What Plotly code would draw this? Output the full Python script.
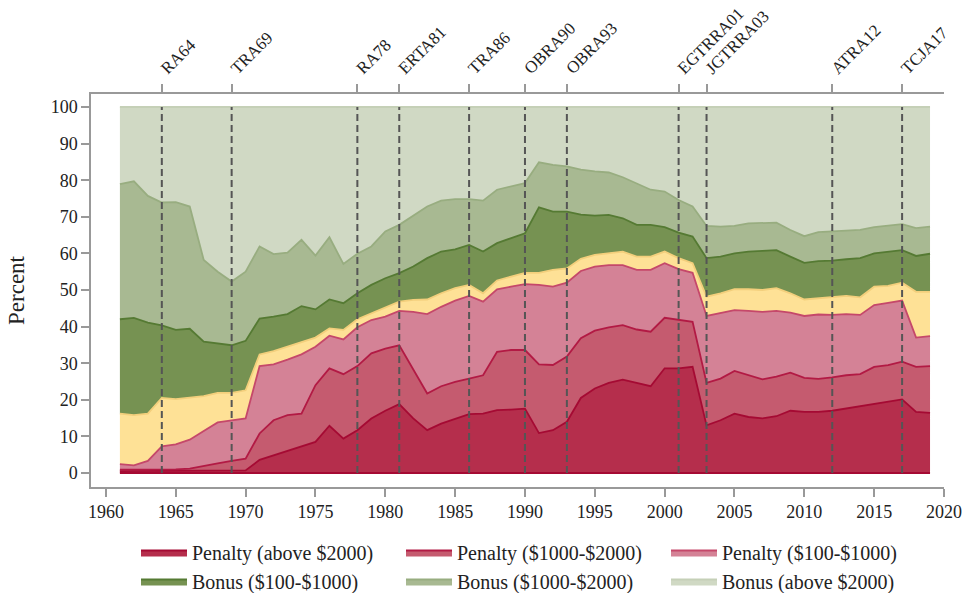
import plotly.graph_objects as go

years = list(range(1961, 2020))

# Cumulative upper boundaries (percent) of each stacked band
top_penalty_above2000 = [0.5, 0.5, 0.5, 0.5, 0.5, 0.5, 0.5, 0.5, 0.6, 0.7,
                         3.6, 4.8, 6.0, 7.3, 8.5, 12.9, 9.4, 11.7, 14.9, 17.0,
                         18.8, 14.9, 11.7, 13.5, 14.9, 16.1, 16.2, 17.2, 17.3, 17.6,
                         10.9, 11.7, 14.0, 20.5, 23.1, 24.6, 25.5, 24.5, 23.7, 28.6,
                         28.6, 29.0, 13.0, 14.4, 16.2, 15.3, 14.9, 15.5, 17.0, 16.7,
                         16.7, 17.0, 17.6, 18.2, 19.0, 19.4, 20.1, 16.7, 16.4]
top_penalty_1000_2000 = [0.9, 0.9, 0.9, 1.0, 1.0, 1.2, 1.8, 2.6, 3.3, 3.9,
                         10.8, 14.4, 15.8, 16.2, 24.0, 28.6, 27.0, 29.2, 32.7, 34.0,
                         34.9, 28.1, 21.7, 23.7, 24.9, 25.8, 26.7, 33.1, 33.6, 33.6,
                         29.7, 29.5, 31.8, 36.8, 38.9, 39.8, 40.4, 39.2, 38.6, 42.4,
                         41.8, 41.3, 24.6, 25.8, 27.9, 26.7, 25.6, 26.3, 27.4, 26.0,
                         25.7, 26.1, 26.7, 27.0, 29.0, 29.5, 30.4, 29.0, 29.2]
top_penalty_100_1000 = [2.4, 2.1, 3.3, 7.3, 7.8, 9.1, 11.5, 13.8, 14.4, 14.9,
                        29.2, 29.7, 31.0, 32.4, 34.5, 37.5, 36.5, 39.8, 41.8, 42.7,
                        44.3, 44.0, 43.4, 45.4, 47.1, 48.4, 46.8, 50.2, 50.9, 51.6,
                        51.4, 50.9, 52.0, 55.2, 56.4, 56.8, 56.8, 55.5, 55.5, 57.3,
                        55.7, 54.7, 42.9, 43.8, 44.5, 44.3, 44.0, 44.3, 43.8, 42.9,
                        43.3, 43.2, 43.4, 43.2, 45.9, 46.5, 47.1, 37.0, 37.4]
top_neutral = [16.2, 15.8, 16.2, 20.5, 20.2, 20.6, 21.0, 21.9, 21.9, 22.6,
               32.4, 33.3, 34.5, 35.9, 37.0, 39.5, 39.1, 42.0, 43.6, 45.3,
               46.8, 47.3, 47.4, 49.1, 50.5, 51.4, 49.1, 52.6, 53.6, 54.7,
               54.7, 55.5, 55.9, 58.5, 59.6, 60.0, 60.5, 59.1, 59.1, 60.5,
               58.7, 57.3, 48.2, 49.1, 50.2, 50.2, 50.0, 50.5, 49.1, 47.4,
               47.8, 48.2, 48.4, 48.0, 50.9, 51.1, 52.0, 49.5, 49.5]
top_bonus_100_1000 = [42.0, 42.4, 41.1, 40.3, 39.1, 39.4, 35.9, 35.4, 34.9, 36.1,
                      42.2, 42.7, 43.4, 45.6, 44.7, 47.4, 46.4, 49.1, 51.4, 53.2,
                      54.6, 56.4, 58.7, 60.5, 61.1, 62.3, 60.5, 62.8, 64.1, 65.5,
                      72.6, 71.4, 71.4, 70.6, 70.3, 70.5, 69.6, 67.8, 67.8, 67.2,
                      65.7, 64.6, 58.7, 59.1, 60.0, 60.5, 60.7, 60.9, 59.1, 57.4,
                      57.9, 58.0, 58.4, 58.7, 60.0, 60.5, 60.9, 59.3, 59.9]
top_bonus_1000_2000 = [78.9, 79.7, 75.7, 73.9, 74.0, 72.8, 58.2, 55.0, 52.3, 55.0,
                       61.9, 59.8, 60.2, 63.7, 59.4, 64.4, 57.1, 59.9, 61.9, 66.0,
                       67.8, 70.3, 72.8, 74.4, 74.8, 74.8, 74.4, 77.4, 78.3, 79.2,
                       84.9, 84.2, 83.8, 82.9, 82.4, 82.1, 80.8, 79.2, 77.4, 76.9,
                       74.6, 72.8, 67.5, 67.3, 67.5, 68.2, 68.4, 68.4, 66.4, 64.7,
                       65.8, 66.0, 66.2, 66.4, 67.2, 67.5, 68.0, 66.9, 67.3]
top_bonus_above2000 = [100] * len(years)
baseline = [0] * len(years)

reform_years = [1964, 1969, 1978, 1981, 1986, 1990, 1993, 2001, 2003, 2012, 2017]
reform_labels = ["RA64", "TRA69", "RA78", "ERTA81", "TRA86", "OBRA90", "OBRA93",
                 "EGTRRA01", "JGTRRA03", "ATRA12", "TCJA17"]

x_ticks = list(range(1960, 2021, 5))
y_ticks = list(range(0, 101, 10))

FONT = "Liberation Serif"

bands = [
    ("Penalty (above $2000)", top_penalty_above2000, "#b52e4c", "#a50a33", True),
    ("Penalty ($1000-$2000)", top_penalty_1000_2000, "#c55b6f", "#b21a44", True),
    ("Penalty ($100-$1000)", top_penalty_100_1000, "#d48296", "#c5486a", True),
    ("Neutral", top_neutral, "#fee196", "#f3cf7c", False),
    ("Bonus ($100-$1000)", top_bonus_100_1000, "#769252", "#557a33", True),
    ("Bonus ($1000-$2000)", top_bonus_1000_2000, "#a8b992", "#98ad80", True),
    ("Bonus (above $2000)", top_bonus_above2000, "#d0d9c4", "#c5d0b7", True),
]

fig = go.Figure()
fig.add_trace(go.Scatter(x=years, y=baseline, mode="lines",
                         line=dict(color="#a50a33", width=2),
                         showlegend=False, hoverinfo="skip"))
for name, vals, fill, edge, show in bands:
    fig.add_trace(go.Scatter(
        x=years, y=vals, mode="lines", name=name,
        fill="tonexty", fillcolor=fill,
        line=dict(color=edge, width=1.8),
        showlegend=show,
    ))

# invisible carrier trace so the top (reform) axis is drawn
fig.add_trace(go.Scatter(x=reform_years, y=[None] * len(reform_years),
                         xaxis="x2", yaxis="y", mode="markers",
                         showlegend=False, hoverinfo="skip"))

for yr in reform_years:
    fig.add_shape(type="line", xref="x", yref="y", x0=yr, x1=yr, y0=0, y1=100,
                  line=dict(color="#555555", width=2, dash="7px,4px"), layer="above")

x_range = [1958.93, 2020.0]
axis_line = "#999999"

W, H = 964, 593

fig.update_layout(
    width=W, height=H,
    margin=dict(l=91, r=20, t=94, b=106, autoexpand=False),
    paper_bgcolor="white", plot_bgcolor="white",
    font=dict(family=FONT, size=18, color="#222222"),
    showlegend=True,
    legend=dict(
        orientation="h", traceorder="normal",
        xref="container", yref="container",
        x=136 / W, xanchor="left",
        y=1 - 533 / H, yanchor="top",
        entrywidth=204, entrywidthmode="pixels",
        itemwidth=46,
        font=dict(family=FONT, size=20, color="#222222"),
        bgcolor="rgba(0,0,0,0)",
        tracegroupgap=0,
    ),
    xaxis=dict(
        range=x_range, tickmode="array", tickvals=x_ticks,
        ticks="outside", ticklen=8, tickcolor=axis_line, tickwidth=1.5,
        showline=True, linecolor=axis_line, linewidth=1.5,
        showgrid=False, zeroline=False, automargin=False,
        tickfont=dict(family=FONT, size=18, color="#222222"),
    ),
    xaxis2=dict(
        range=x_range, overlaying="x", side="top", anchor="y",
        tickmode="array", tickvals=reform_years, ticktext=reform_labels,
        tickangle=-45,
        ticks="outside", ticklen=8, tickcolor=axis_line, tickwidth=1.5,
        showline=True, linecolor=axis_line, linewidth=1.5,
        showgrid=False, zeroline=False, automargin=False,
        tickfont=dict(family=FONT, size=17, color="#222222"),
    ),
    yaxis=dict(
        range=[-3.83, 103.55], tickmode="array", tickvals=y_ticks,
        ticks="outside", ticklen=8, tickcolor=axis_line, tickwidth=1.5,
        showline=True, linecolor=axis_line, linewidth=1.5,
        showgrid=False, zeroline=False, automargin=False,
        tickfont=dict(family=FONT, size=18, color="#222222"),
        title=dict(text="Percent", font=dict(family=FONT, size=23, color="#222222"),
                   standoff=20),
    ),
)

fig.write_html("out.html",
               config={"displayModeBar": False},
               post_script="document.body.style.margin='0';"
                           "document.body.style.overflow='hidden';")
